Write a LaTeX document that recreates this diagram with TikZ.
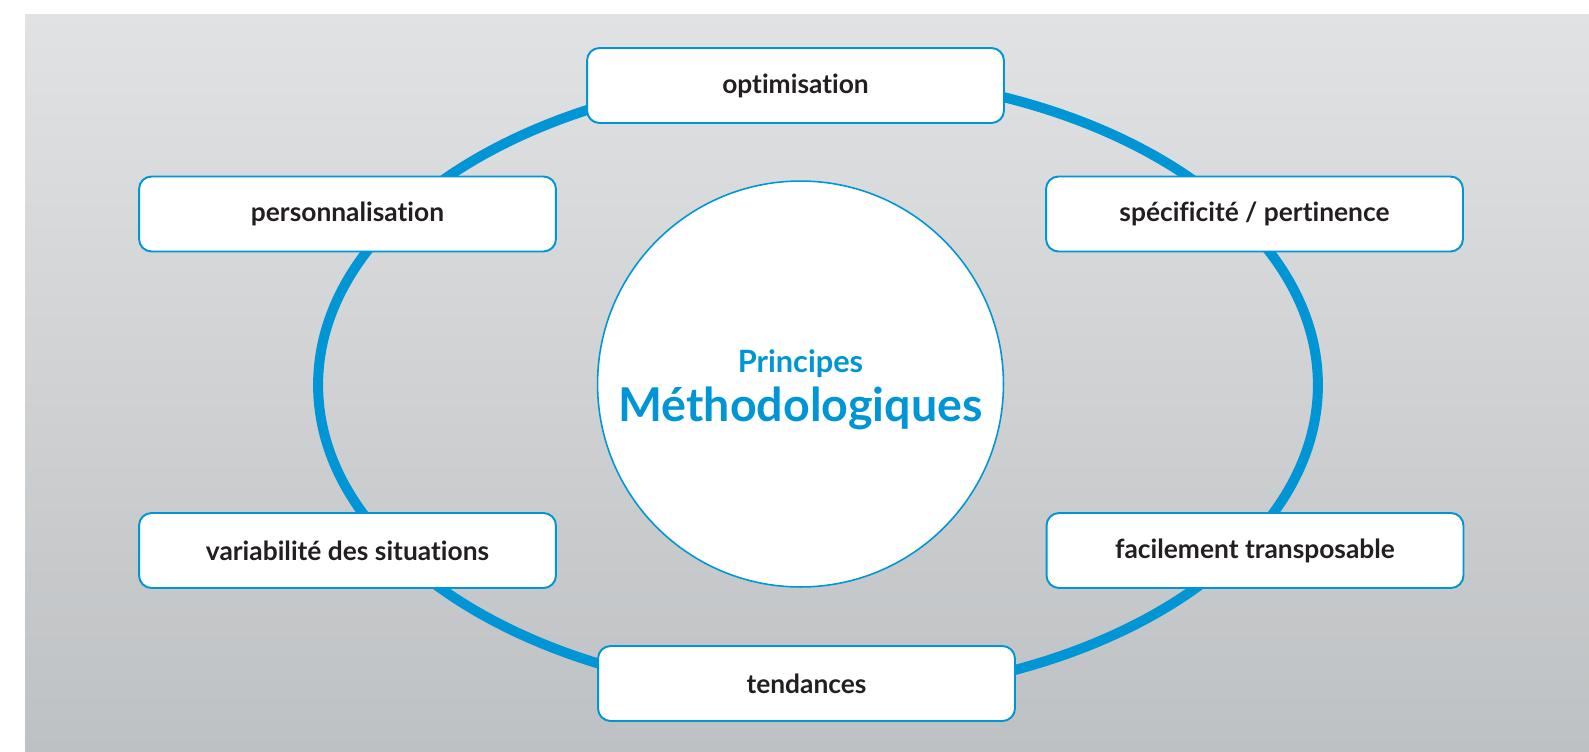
\documentclass[tikz,border=0pt]{standalone}
\usepackage{fontspec}
\setmainfont{Lato}[Ligatures={NoCommon,NoContextual}]
\usepackage{tikz}
\usetikzlibrary{positioning}
\definecolor{bleu}{RGB}{0,150,214}
\definecolor{encre}{RGB}{35,31,32}
\definecolor{fondhaut}{RGB}{225,226,228}
\definecolor{fondmilieu}{RGB}{216,218,220}
\definecolor{fondbas}{RGB}{190,193,195}
\tikzset{
    principe/.style={ % Sets the properties for each box round the ring
        draw=bleu, line width=1.1pt,
        fill=white,
        rounded corners=0.25cm,
        minimum width=8.34cm, minimum height=1.5cm,
        text=encre,
        font=\fontsize{15}{18}\selectfont\bfseries
    },
    centre/.style={ % White disc in the middle
        circle, draw=bleu, line width=0.9pt,
        fill=white,
        minimum size=8.12cm, inner sep=0pt
    },
    titre/.style={ % Blue text of the disc
        text=bleu, inner sep=0pt, anchor=base
    },
    anneau/.style={draw=bleu, line width=0.2cm} % The ring
}

\begin{document}
\begin{tikzpicture}[x=0.02cm, y=-0.02cm]
            \useasboundingbox (0,0) rectangle (1589,751);
            \shade[top color=fondhaut, middle color=fondmilieu, bottom color=fondbas] (25,14) rectangle (1589,751);

            \coordinate (milieu) at (818,385);
            \draw[anneau] (milieu) ellipse [x radius=10cm, y radius=6.2cm];

            \node[centre] (disque) at (800.5,384) {};
            \node[titre, font=\fontsize{17.5}{20}\selectfont\bfseries] (haut) at (800.5,372) {Principes};
            \node[titre, font=\fontsize{26.5}{30}\selectfont\bfseries] (bas) at (800.5,421) {Méthodologiques};

            \node[principe] (optim) at (795.5,85.5) {optimisation};
            \node[principe] (perso) at (347.5,214) {personnalisation};
            \node[principe] (speci) at (1254.5,214) {spécificité / pertinence};
            \node[principe] (varia) at (347.5,550.5) {variabilité des situations};
            \node[principe] (facil) at (1255,550.5) {facilement transposable};
            \node[principe] (tend) at (806.5,683.5) {tendances};
        \end{tikzpicture}
\end{document}
